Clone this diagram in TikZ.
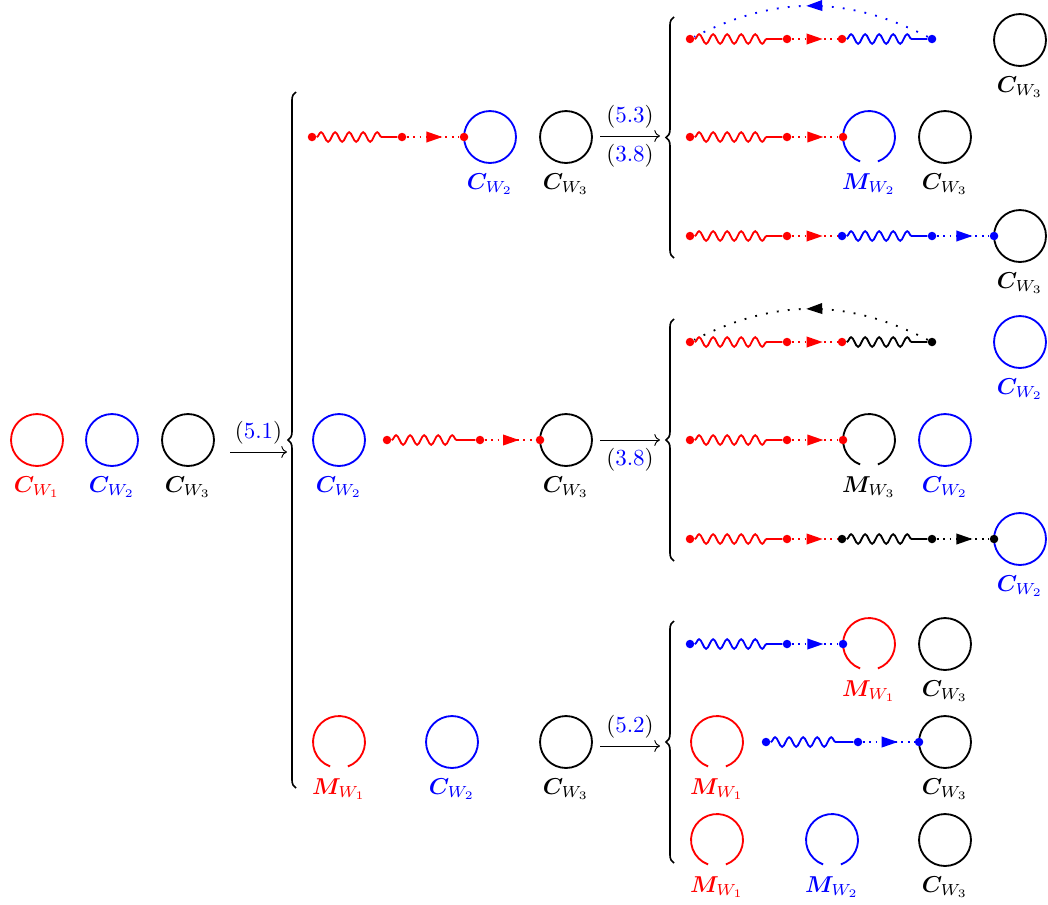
\documentclass[tikz,border=0pt]{standalone}
\usepackage{amsmath,bm}
\usetikzlibrary{decorations.pathmorphing,decorations.pathreplacing,decorations.markings,arrows.meta}

% closed ring of a node drawn as an arc with a gap at the bottom
\newcommand\openring[2]{\draw[line width=0.8pt,#2] (#1.-70) arc[start angle=-70,end angle=250,radius=11.3pt];}
% equation reference: black brackets, blue number
\newcommand\eqlab[1]{(\textcolor{blue}{#1})}

\begin{document}
\begin{tikzpicture}[x=0.435pt,y=-0.435pt,
  ring/.style={circle,draw,line width=0.8pt,minimum size=22.6pt,inner sep=0pt,outer sep=0pt},
  gapring/.style={circle,minimum size=22.6pt,inner sep=0pt,outer sep=0pt},
  cw/.style n args={3}{ring,draw=#1,label={[text=#1,label distance=1pt]below:$\bm{#2}_{W_{#3}}$}},
  mw/.style n args={3}{gapring,label={[text=#1,label distance=1pt]below:$\bm{#2}_{W_{#3}}$}},
  pt/.style={circle,fill,inner sep=0pt,minimum size=3.7pt},
  wave/.style={line width=0.8pt,decorate,decoration={snake,amplitude=2.1pt,segment length=6.1pt,post length=6.5pt}},
  hop/.style={line width=0.8pt,dotted,postaction={decorate},
    decoration={markings,mark=at position 0.68 with {\arrow{Triangle[length=7pt,width=4.6pt]}}}},
  back/.style={line width=0.8pt,loosely dotted,postaction={decorate},
    decoration={markings,mark=at position 0.52 with {\arrow{Triangle[length=7pt,width=4.6pt]}}}},
  trans/.style={->,line width=0.4pt},
  curly/.style={line width=0.7pt,decorate,decoration={brace,amplitude=3.5pt}}
]
\useasboundingbox (0,0) rectangle (1048,904);

% ---------------- initial state ----------------
\node[cw={red}{C}{1}] (l1) at (37,440) {};
\node[cw={blue}{C}{2}] (l2) at (112,440) {};
\node[cw={black}{C}{3}] (l3) at (188,440) {};
\coordinate (t1a) at (230,452);
\coordinate (t1b) at (287,452);
\draw[trans] (t1a) -- (t1b) node[midway,above] {\eqlab{5.1}};

\coordinate (b0s) at (296,788);
\coordinate (b0e) at (296,92);
\draw[curly] (b0s) -- (b0e);

% ---------------- second column ----------------
% row a
\node[cw={blue}{C}{2}] (ma2) at (490,137) {};
\node[cw={black}{C}{3}] (ma3) at (566,137) {};
\node[pt,red] (mas) at (312,137) {};
\node[pt,red] (mam) at (402,137) {};
\node[pt,red] (mae) at (ma2.west) {};
\draw[wave,red] (mas) -- (mam);
\draw[hop,red] (mam) -- (mae);
\coordinate (tAa) at (600,136);
\coordinate (tAb) at (660,136);
\draw[trans] (tAa) -- (tAb) node[midway,above] {\eqlab{5.3}} node[midway,below] {\eqlab{3.8}};

% row b
\node[cw={blue}{C}{2}] (mb2) at (339,440) {};
\node[cw={black}{C}{3}] (mb3) at (566,440) {};
\node[pt,red] (mbs) at (387,440) {};
\node[pt,red] (mbm) at (480,440) {};
\node[pt,red] (mbe) at (mb3.west) {};
\draw[wave,red] (mbs) -- (mbm);
\draw[hop,red] (mbm) -- (mbe);
\coordinate (tBa) at (600,440);
\coordinate (tBb) at (660,440);
\draw[trans] (tBa) -- (tBb) node[midway,below] {\eqlab{3.8}};

% row c
\node[mw={red}{M}{1}] (mc1) at (339,742) {};
\openring{mc1}{red}
\node[cw={blue}{C}{2}] (mc2) at (452,742) {};
\node[cw={black}{C}{3}] (mc3) at (566,742) {};
\coordinate (tCa) at (600,746);
\coordinate (tCb) at (660,746);
\draw[trans] (tCa) -- (tCb) node[midway,above] {\eqlab{5.2}};

% ---------------- third column, group A ----------------
\coordinate (bAs) at (674,258);
\coordinate (bAe) at (674,17);
\draw[curly] (bAs) -- (bAe);

\node[pt,red] (a1s) at (690,39) {};
\node[pt,red] (a1m) at (787,39) {};
\node[pt,red] (a1n) at (842,39) {};
\node[pt,blue] (a1o) at (932,39) {};
\draw[wave,red] (a1s) -- (a1m);
\draw[hop,red] (a1m) -- (a1n);
\draw[wave,blue] (a1n) -- (a1o);
\draw[back,blue] (a1o) to[bend right=27] (a1s);
\node[cw={black}{C}{3}] (a1c) at (1020,40) {};

\node[pt,red] (a2s) at (690,137) {};
\node[pt,red] (a2m) at (787,137) {};
\node[mw={blue}{M}{2}] (a2r) at (869,137) {};
\openring{a2r}{blue}
\node[pt,red] (a2e) at (a2r.west) {};
\draw[wave,red] (a2s) -- (a2m);
\draw[hop,red] (a2m) -- (a2e);
\node[cw={black}{C}{3}] (a2c) at (945,137) {};

\node[cw={black}{C}{3}] (a3c) at (1020,236) {};
\node[pt,red] (a3s) at (690,236) {};
\node[pt,red] (a3m) at (787,236) {};
\node[pt,blue] (a3n) at (842,236) {};
\node[pt,blue] (a3o) at (932,236) {};
\node[pt,blue] (a3e) at (a3c.west) {};
\draw[wave,red] (a3s) -- (a3m);
\draw[hop,red] (a3m) -- (a3n);
\draw[wave,blue] (a3n) -- (a3o);
\draw[hop,blue] (a3o) -- (a3e);

% ---------------- third column, group B ----------------
\coordinate (bBs) at (674,561);
\coordinate (bBe) at (674,319);
\draw[curly] (bBs) -- (bBe);

\node[pt,red] (b1s) at (690,342) {};
\node[pt,red] (b1m) at (787,342) {};
\node[pt,red] (b1n) at (842,342) {};
\node[pt,black] (b1o) at (932,342) {};
\draw[wave,red] (b1s) -- (b1m);
\draw[hop,red] (b1m) -- (b1n);
\draw[wave,black] (b1n) -- (b1o);
\draw[back,black] (b1o) to[bend right=27] (b1s);
\node[cw={blue}{C}{2}] (b1c) at (1020,342) {};

\node[pt,red] (b2s) at (690,440) {};
\node[pt,red] (b2m) at (787,440) {};
\node[mw={black}{M}{3}] (b2r) at (869,440) {};
\openring{b2r}{black}
\node[pt,red] (b2e) at (b2r.west) {};
\draw[wave,red] (b2s) -- (b2m);
\draw[hop,red] (b2m) -- (b2e);
\node[cw={blue}{C}{2}] (b2c) at (945,440) {};

\node[cw={blue}{C}{2}] (b3c) at (1020,539) {};
\node[pt,red] (b3s) at (690,539) {};
\node[pt,red] (b3m) at (787,539) {};
\node[pt,black] (b3n) at (842,539) {};
\node[pt,black] (b3o) at (932,539) {};
\node[pt,black] (b3e) at (b3c.west) {};
\draw[wave,red] (b3s) -- (b3m);
\draw[hop,red] (b3m) -- (b3n);
\draw[wave,black] (b3n) -- (b3o);
\draw[hop,black] (b3o) -- (b3e);

% ---------------- third column, group C ----------------
\coordinate (bCs) at (674,863);
\coordinate (bCe) at (674,621);
\draw[curly] (bCs) -- (bCe);

\node[pt,blue] (c1s) at (690,644) {};
\node[pt,blue] (c1m) at (787,644) {};
\node[mw={red}{M}{1}] (c1r) at (869,644) {};
\openring{c1r}{red}
\node[pt,blue] (c1e) at (c1r.west) {};
\draw[wave,blue] (c1s) -- (c1m);
\draw[hop,blue] (c1m) -- (c1e);
\node[cw={black}{C}{3}] (c1c) at (945,644) {};

\node[mw={red}{M}{1}] (c2r) at (717,742) {};
\openring{c2r}{red}
\node[cw={black}{C}{3}] (c2c) at (945,742) {};
\node[pt,blue] (c2s) at (766,742) {};
\node[pt,blue] (c2m) at (858,742) {};
\node[pt,blue] (c2e) at (c2c.west) {};
\draw[wave,blue] (c2s) -- (c2m);
\draw[hop,blue] (c2m) -- (c2e);

\node[mw={red}{M}{1}] (c3r) at (717,840) {};
\openring{c3r}{red}
\node[mw={blue}{M}{2}] (c3b) at (832,840) {};
\openring{c3b}{blue}
\node[cw={black}{C}{3}] (c3c) at (945,840) {};

\end{tikzpicture}
\end{document}
